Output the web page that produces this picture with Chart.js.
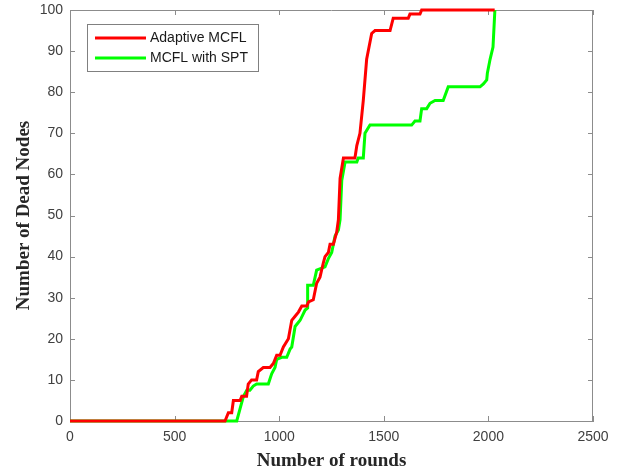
<!DOCTYPE html>
<html>
<head>
<meta charset="utf-8">
<script src="https://cdn.jsdelivr.net/npm/chart.js@4.4.0/dist/chart.umd.min.js"></script>
<style>
  html, body { margin: 0; padding: 0; background: #fff; }
  #wrap { width: 622px; height: 474px; }
</style>
</head>
<body>
<div id="wrap"><canvas id="myChart" width="622" height="474"></canvas></div>
<script>
// values (rounds vs. cumulative dead nodes)
const seriesNames = ['Adaptive MCFL', 'MCFL with SPT'];

const roundsAdaptive = [0, 741, 757, 773, 781, 813, 821, 844, 852, 868, 892, 900, 924, 956, 972, 988, 1004, 1020, 1044, 1060, 1076, 1092, 1108, 1132, 1140, 1163, 1179, 1195, 1211, 1219, 1235, 1243, 1259, 1275, 1283, 1291, 1307, 1362, 1371, 1386, 1402, 1418, 1442, 1458, 1530, 1545, 1617, 1625, 1673, 1681, 2030];
const deadAdaptive   = [0, 0,   2,   2,   5,   5,   6,   6,   9,   10,  10,  12,  13,  13,  14,  16,  16,   18,   20,   24.5, 25.5, 26.5, 28,   28,   29,   29.5, 33.5, 35,   38.5, 40,   41,   43,   43,   46,   49,   59,   64,   64,   67,   70,   78,   88,   94.3, 95,   95,   98,   98,   99,   99,   100,  100];

const roundsSpt = [0, 797, 813, 829, 845, 860, 876, 892, 948, 964, 980, 988, 1012, 1036, 1052, 1060, 1076, 1100, 1124, 1136, 1136, 1163, 1179, 1219, 1235, 1251, 1267, 1283, 1291, 1299, 1315, 1371, 1378, 1402, 1410, 1434, 1633, 1649, 1673, 1681, 1705, 1721, 1745, 1784, 1808, 1960, 1976, 1992, 1995, 2008, 2022, 2031];
const deadSpt   = [0, 0,   3,   6,   7.5, 7.5, 8.5, 9,   9,   11.5, 13, 15,  15.5, 15.5, 17.5, 18,   23,   24.5, 27,   27.5, 33,   33,   36.7, 37.5, 39.5, 41,   45,   46.5, 49,   58.5, 63,   63,   64,   64,   70,   72,   72,   73,   73,   76,   76,   77.3, 78,   78,   81.3, 81.3, 82,   83,   84.6, 88,   91,   100];

const xTicks = [0, 500, 1000, 1500, 2000, 2500];
const yTicks = [0, 10, 20, 30, 40, 50, 60, 70, 80, 90, 100];
const lineColors = ['#ff0000', '#00ff00'];

function toPoints(xs, ys) {
  return xs.map((x, i) => ({x: x, y: ys[i]}));
}

const axisGray = '#8c8c8c';

// MATLAB style box: top/right edges and inward tick marks
const boxPlugin = {
  id: 'box',
  beforeDatasetsDraw(chart) {
    const ctx = chart.ctx;
    const a = chart.chartArea;
    const xs = chart.scales.x, ys = chart.scales.y;
    const len = 5;
    ctx.save();
    ctx.strokeStyle = axisGray;
    ctx.lineWidth = 1;
    ctx.beginPath();
    ctx.moveTo(a.left, a.top + 0.5);
    ctx.lineTo(a.right, a.top + 0.5);
    ctx.moveTo(a.right - 0.5, a.top);
    ctx.lineTo(a.right - 0.5, a.bottom);
    xs.ticks.forEach(t => {
      const px = Math.round(xs.getPixelForValue(t.value)) + 0.5;
      ctx.moveTo(px, a.bottom);
      ctx.lineTo(px, a.bottom - len);
      ctx.moveTo(px, a.top);
      ctx.lineTo(px, a.top + len);
    });
    ys.ticks.forEach(t => {
      const py = Math.round(ys.getPixelForValue(t.value)) + 0.5;
      ctx.moveTo(a.left, py);
      ctx.lineTo(a.left + len, py);
      ctx.moveTo(a.right, py);
      ctx.lineTo(a.right - len, py);
    });
    ctx.stroke();
    ctx.restore();
  },
  afterDraw(chart) {
    // legend box in the upper left of the plot
    const ctx = chart.ctx;
    const a = chart.chartArea;
    const bx = a.left + 17, by = a.top + 14, bw = 171, bh = 47;
    ctx.save();
    ctx.fillStyle = '#ffffff';
    ctx.fillRect(bx, by, bw, bh);
    ctx.strokeStyle = '#808080';
    ctx.lineWidth = 1;
    ctx.strokeRect(bx + 0.5, by + 0.5, bw, bh);
    ctx.font = '14px "Liberation Sans", Arial, sans-serif';
    ctx.textBaseline = 'middle';
    chart.data.datasets.forEach((ds, i) => {
      const cy = by + 14 + i * 20;
      ctx.strokeStyle = ds.borderColor;
      ctx.lineWidth = 3;
      ctx.beginPath();
      ctx.moveTo(bx + 8, cy);
      ctx.lineTo(bx + 59, cy);
      ctx.stroke();
      ctx.fillStyle = '#1a1a1a';
      ctx.fillText(ds.label, bx + 63, cy);
    });
    ctx.restore();
  }
};

const ctx = document.getElementById('myChart').getContext('2d');
new Chart(ctx, {
  type: 'line',
  data: {
    datasets: [
      {
        label: seriesNames[0],
        data: toPoints(roundsAdaptive, deadAdaptive),
        borderColor: lineColors[0],
        borderWidth: 3,
        pointRadius: 0,
        tension: 0,
        clip: false
      },
      {
        label: seriesNames[1],
        data: toPoints(roundsSpt, deadSpt),
        borderColor: lineColors[1],
        borderWidth: 3,
        pointRadius: 0,
        tension: 0,
        clip: false
      }
    ]
  },
  options: {
    responsive: false,
    animation: false,
    devicePixelRatio: 1,
    layout: { padding: { left: 0, right: 29, top: 10, bottom: 0 } },
    plugins: {
      legend: { display: false },
      tooltip: { enabled: false }
    },
    scales: {
      x: {
        type: 'linear',
        min: 0,
        max: 2500,
        afterBuildTicks: s => { s.ticks = xTicks.map(v => ({value: v})); },
        afterFit: s => { s.height = 53; s.paddingLeft = 0; s.paddingRight = 0; },
        grid: { drawOnChartArea: false, drawTicks: false },
        border: { display: true, color: axisGray, width: 1 },
        ticks: {
          padding: 8,
          color: '#404040',
          font: { family: '"Liberation Sans", Arial, sans-serif', size: 14 },
          maxRotation: 0,
          callback: v => String(v)
        },
        title: {
          display: true,
          text: 'Number of rounds',
          color: '#262626',
          font: { family: '"Liberation Serif", "Times New Roman", serif', size: 19, weight: 'bold' },
          padding: { top: 0, bottom: 2 }
        }
      },
      y: {
        type: 'linear',
        min: 0,
        max: 100,
        afterBuildTicks: s => { s.ticks = yTicks.map(v => ({value: v})); },
        afterFit: s => { s.width = 70; s.paddingTop = 0; s.paddingBottom = 0; },
        grid: { drawOnChartArea: false, drawTicks: false },
        border: { display: true, color: axisGray, width: 1 },
        ticks: {
          padding: 7,
          color: '#404040',
          font: { family: '"Liberation Sans", Arial, sans-serif', size: 14 },
          callback: v => String(v)
        },
        title: {
          display: true,
          text: 'Number of Dead Nodes',
          color: '#262626',
          font: { family: '"Liberation Serif", "Times New Roman", serif', size: 19, weight: 'bold' },
          padding: { top: 13, bottom: 0 }
        }
      }
    }
  },
  plugins: [boxPlugin]
});
</script>
</body>
</html>
